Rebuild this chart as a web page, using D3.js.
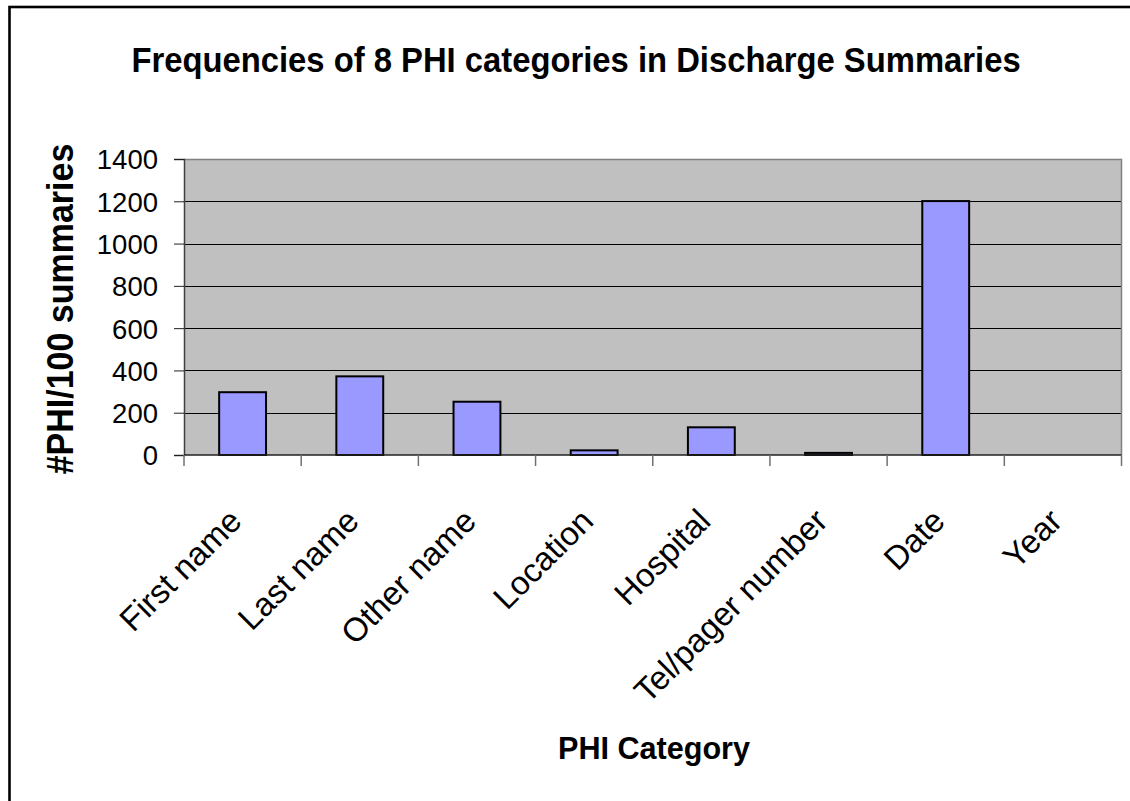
<!DOCTYPE html>
<html>
<head>
<meta charset="utf-8">
<script src="https://cdn.jsdelivr.net/npm/d3@7/dist/d3.min.js"></script>
<style>
  html, body { margin: 0; padding: 0; background: #fff; }
  svg { display: block; }
  text { font-family: Arial, "Liberation Sans", sans-serif; fill: #000; }
</style>
</head>
<body>
<svg id="chart" width="1130" height="801"></svg>
<script>
const categories = ["First name", "Last name", "Other name", "Location", "Hospital", "Tel/pager number", "Date", "Year"];
const values = [297, 372, 252, 22, 131, 10, 1201, 0];
const yTicks = [0, 200, 400, 600, 800, 1000, 1200, 1400];
const titleText = "Frequencies of 8 PHI categories in Discharge Summaries";
const xTitle = "PHI Category";
const yTitle = "#PHI/100 summaries";

const svg = d3.select("#chart");
const W = 1130, H = 801;
const plot = { left: 184, right: 1121.5, top: 159, bottom: 455 };

// outer frame
svg.append("rect")
  .attr("x", 9.5).attr("y", 7)
  .attr("width", W + 20).attr("height", H + 20)
  .attr("fill", "#fff").attr("stroke", "#000").attr("stroke-width", 2.6);

const x = d3.scaleBand().domain(categories).range([plot.left, plot.right]).paddingInner(0.6).paddingOuter(0.3);
const xb = d3.scaleBand().domain(categories).range([plot.left, plot.right]).padding(0);
const y = d3.scaleLinear().domain([0, 1400]).range([plot.bottom, plot.top]);

// plot background
svg.append("rect")
  .attr("x", plot.left).attr("y", plot.top)
  .attr("width", plot.right - plot.left).attr("height", plot.bottom - plot.top)
  .attr("fill", "#C0C0C0");

// gridlines
svg.append("g").selectAll("line")
  .data(yTicks.filter(t => t > 0 && t < 1400))
  .join("line")
  .attr("x1", plot.left).attr("x2", plot.right)
  .attr("y1", d => Math.round(y(d)) + 0.5).attr("y2", d => Math.round(y(d)) + 0.5)
  .attr("stroke", "#000").attr("stroke-width", 1);

// plot border top/right (gray)
svg.append("path")
  .attr("d", `M${plot.left},${plot.top + 0.5}H${plot.right}V${plot.bottom}`)
  .attr("fill", "none").attr("stroke", "#808080").attr("stroke-width", 1.5);

// bars
svg.append("g").selectAll("rect")
  .data(categories.map((c, i) => ({ c, v: values[i] })).filter(d => d.v > 0))
  .join("rect")
  .attr("x", d => x(d.c)).attr("width", x.bandwidth())
  .attr("y", d => y(d.v)).attr("height", d => y(0) - y(d.v))
  .attr("fill", "#9999FF").attr("stroke", "#000").attr("stroke-width", 2);

// y axis
const yAxis = d3.axisLeft(y).tickValues(yTicks).tickSize(10).tickPadding(16).tickFormat(d3.format("d"));
const gy = svg.append("g").attr("transform", `translate(${plot.left},0)`).call(yAxis);
gy.select(".domain").attr("stroke", "#404040").attr("stroke-width", 1.5);
gy.selectAll(".tick line").attr("stroke", "#202020");
gy.selectAll(".tick text")
  .attr("font-size", 27.5).attr("font-family", "Arial, 'Liberation Sans', sans-serif")
  .attr("fill", "#000").attr("dy", "0.36em");

// x axis (ticks at category boundaries)
const boundaries = categories.map(c => xb(c)).concat([plot.right]);
svg.append("line")
  .attr("x1", plot.left).attr("x2", plot.right)
  .attr("y1", plot.bottom).attr("y2", plot.bottom)
  .attr("stroke", "#202020").attr("stroke-width", 1.5);
svg.append("g").selectAll("line")
  .data(boundaries)
  .join("line")
  .attr("x1", d => d).attr("x2", d => d)
  .attr("y1", plot.bottom).attr("y2", plot.bottom + 11)
  .attr("stroke", "#707070").attr("stroke-width", 1.5);

// x labels rotated
svg.append("g").selectAll("text")
  .data(categories)
  .join("text")
  .attr("transform", d => `translate(${xb(d) + xb.bandwidth() / 2 + 1},523) rotate(-45)`)
  .attr("text-anchor", "end")
  .attr("font-size", 33)
  .text(d => d);

// title
svg.append("text")
  .attr("transform", "translate(576,72) scale(1,1.08)")
  .attr("text-anchor", "middle")
  .attr("font-size", 32.8).attr("font-weight", "bold")
  .text(titleText);

// x title
svg.append("text")
  .attr("transform", "translate(654,759) scale(1,1.05)")
  .attr("text-anchor", "middle")
  .attr("font-size", 30.6).attr("font-weight", "bold")
  .text(xTitle);

// y title
svg.append("text")
  .attr("transform", "translate(73,309) rotate(-90) scale(1,1.1)")
  .attr("text-anchor", "middle")
  .attr("font-size", 34).attr("font-weight", "bold")
  .text(yTitle);
</script>
</body>
</html>
